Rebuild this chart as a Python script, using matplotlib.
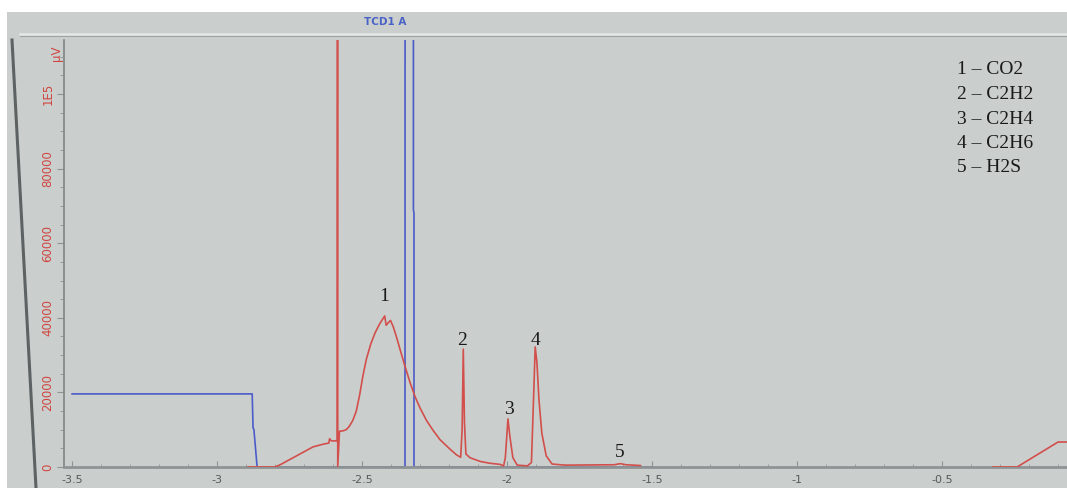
import numpy as np
import matplotlib
matplotlib.use("Agg")
import matplotlib.pyplot as plt
from matplotlib.patches import Rectangle
from matplotlib.lines import Line2D
from matplotlib.ticker import MultipleLocator

# red trace (sample, uV) - two visible pieces separated by a gap
red_t = [-2.893, -2.800, -2.780, -2.759, -2.714, -2.669, -2.630, -2.615, -2.612, -2.606, -2.586,
         -2.584, -2.584, -2.578, -2.566, -2.555, -2.545, -2.532, -2.520, -2.508, -2.497,
         -2.485, -2.470, -2.455, -2.440, -2.428, -2.422, -2.417, -2.412, -2.402, -2.392,
         -2.380, -2.369, -2.352, -2.334, -2.317, -2.300, -2.278, -2.255, -2.231, -2.197,
         -2.175, -2.160, -2.155, -2.151, -2.147, -2.142, -2.128, -2.093, -2.059, -2.024,
         -2.012, -2.006, -1.997, -1.990, -1.980, -1.965, -1.930, -1.916, -1.908, -1.903,
         -1.897, -1.890, -1.880, -1.865, -1.845, -1.800, -1.630, -1.610, -1.590, -1.540,
         np.nan,
         -0.324, -0.241, -0.100, -0.060]
red_v = [0, 0, 700, 1600, 3500, 5400, 6200, 6400, 7600, 7000, 7000,
         400000, 0, 9600, 9700, 10000, 10800, 12500, 15000, 19500, 24500,
         29000, 33000, 36000, 38300, 39800, 40500, 38000, 38500, 39300, 37500,
         34500, 31500, 27000, 22500, 18800, 15800, 12500, 9800, 7300, 4800,
         3300, 2600, 10000, 31600, 12000, 3500, 2500, 1500, 1000, 700,
         300, 2500, 12900, 8000, 2500, 500, 300, 1200, 20000, 32200,
         28000, 18000, 9000, 3000, 800, 500, 600, 900, 600, 400,
         np.nan,
         0, 0, 6700, 6700]

# blue trace (TCD1 A)
blue_t = [-3.500, -2.879, -2.876, -2.873, -2.862, -2.352, -2.351, -2.323, -2.323, -2.321, -2.321, -1.500]
blue_v = [19600, 19600, 10500, 10000, 0, 0, 500000, 500000, 69000, 68000, 0, 0]

peak_labels = ["1", "2", "3", "4", "5"]
peak_t = [-2.424, -2.155, -1.993, -1.903, -1.610]
peak_v = [45600, 34000, 15300, 34000, 4000]

legend_lines = ["1 \u2013 CO2", "2 \u2013 C2H2", "3 \u2013 C2H4", "4 \u2013 C2H6", "5 \u2013 H2S"]

xticks = [-3.5, -3.0, -2.5, -2.0, -1.5, -1.0, -0.5]
xtick_labels = ["-3.5", "-3", "-2.5", "-2", "-1.5", "-1", "-0.5"]
yticks = [0, 20000, 40000, 60000, 80000, 100000]
ytick_labels = ["0", "20000", "40000", "60000", "80000", "1E5"]

W, H = 1067, 488
screen = "#cacfce"
red = "#d24f4b"
blue = "#4b5bc9"

fig = plt.figure(figsize=(W / 100, H / 100), dpi=100)
fig.patch.set_facecolor("white")

# photographed screen area
fig.patches.append(Rectangle((7 / W, 0), 1 - 7 / W, (H - 12) / H,
                             transform=fig.transFigure, facecolor=screen,
                             edgecolor="none", zorder=-10))
fig.add_artist(Line2D([20 / W, 1], [1 - 34 / H, 1 - 34 / H], transform=fig.transFigure,
                      color="#e4e7e6", lw=1.8))
fig.add_artist(Line2D([20 / W, 1], [1 - 36 / H, 1 - 36 / H], transform=fig.transFigure,
                      color="#9ea4a3", lw=0.8))
fig.add_artist(Line2D([12 / W, 36 / W], [1 - 40 / H, 0], transform=fig.transFigure,
                      color="#5d6363", lw=2.2))
fig.text(385 / W, 1 - 22 / H, "TCD1 A", color="#4a62c6", fontsize=7.5,
         fontweight="bold", ha="center", va="center")

ax = fig.add_axes([64 / W, (H - 467) / H, (W - 64) / W, (467 - 40) / H])
ax.set_zorder(1)
ax.set_facecolor("none")
ax.set_xlim(-3.528, -0.069)
ax.set_ylim(0, 114500)

ax.plot(blue_t, blue_v, color=blue, lw=1.2, zorder=2)
ax.plot(red_t, red_v, color=red, lw=1.2, zorder=3)

for s in ["top", "right"]:
    ax.spines[s].set_visible(False)
ax.spines["bottom"].set_color("#8e9493")
ax.spines["bottom"].set_linewidth(2)
ax.spines["bottom"].set_zorder(2.5)
ax.spines["left"].set_color("#7e8584")
ax.spines["left"].set_linewidth(1.2)

ax.set_xticks(xticks)
ax.set_xticklabels(xtick_labels)
ax.xaxis.set_minor_locator(MultipleLocator(0.1))
ax.tick_params(axis="x", which="both", direction="in", colors="#8e9493",
               labelcolor="#555a5a", labelsize=8, pad=6)
ax.tick_params(axis="x", which="major", length=4)
ax.tick_params(axis="x", which="minor", length=2)

ax.set_yticks(yticks)
ax.set_yticklabels(ytick_labels, rotation=90, va="center")
ax.yaxis.set_minor_locator(MultipleLocator(5000))
ax.tick_params(axis="y", which="both", direction="out", colors="#8e9493",
               labelcolor="#d0453f", labelsize=8.5, pad=2)
ax.tick_params(axis="y", which="major", length=5)
ax.tick_params(axis="y", which="minor", length=3)
ax.text(-3.555, 111000, "\u00b5V", color="#d0453f", fontsize=8.5, rotation=90,
        ha="center", va="center", clip_on=False)

for lab, t, v in zip(peak_labels, peak_t, peak_v):
    ax.text(t, v, lab, family="Liberation Serif", fontsize=14, color="#1a1a1a",
            ha="center", va="center")

for i, line in enumerate(legend_lines):
    fig.text(957 / W, 1 - (70 + 24.5 * i) / H, line, family="Liberation Serif",
             fontsize=14, color="#1a1a1a", ha="left", va="center")

fig.savefig("out.png", dpi=100)
